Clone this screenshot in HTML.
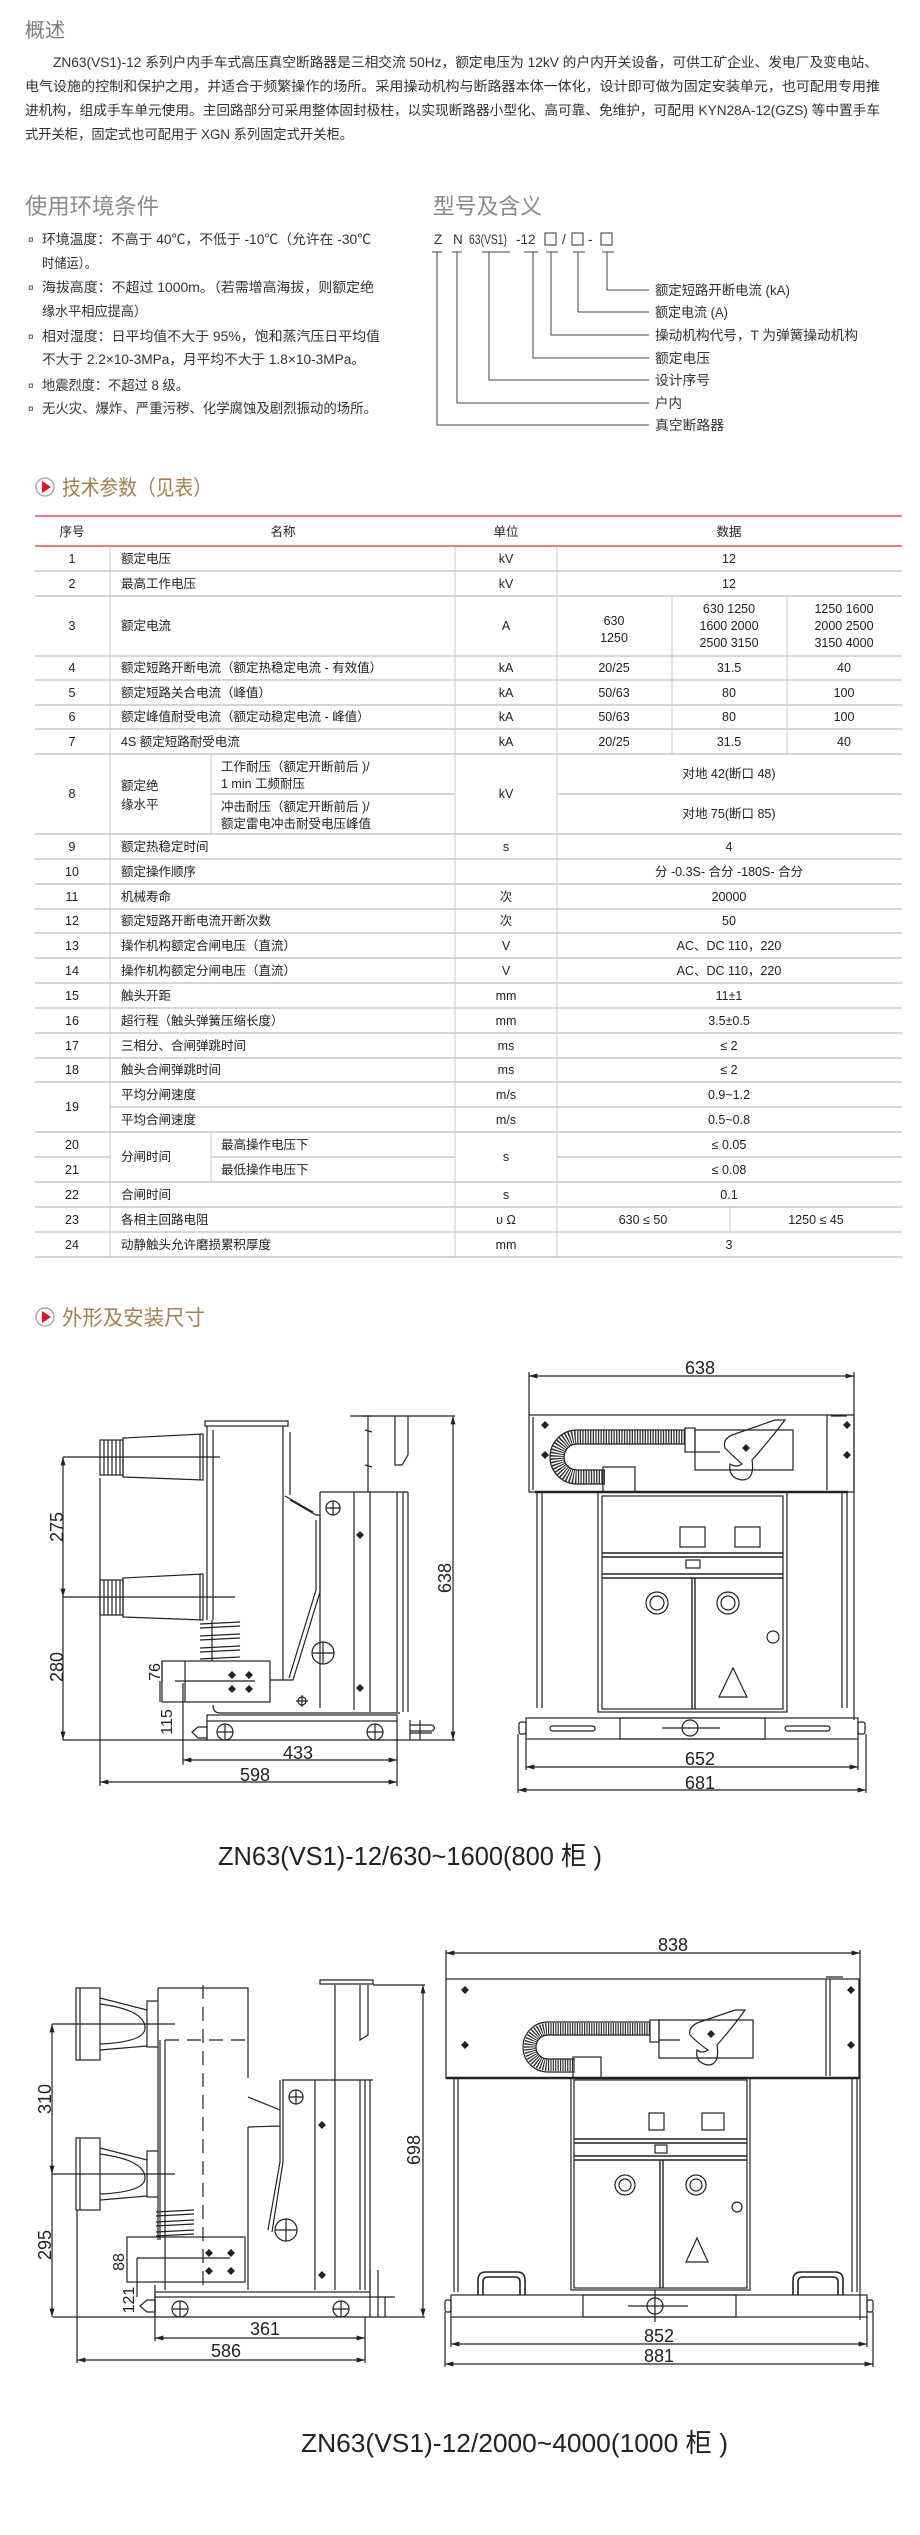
<!DOCTYPE html>
<html><head><meta charset="utf-8">
<style>
html,body{margin:0;padding:0;background:#fff;}
body{width:920px;height:2535px;position:relative;overflow:hidden;}
svg{position:absolute;left:0;top:0;}
text{font-family:"Liberation Sans","Noto Sans CJK SC",sans-serif;}
</style></head><body>
<svg width="920" height="2535" viewBox="0 0 920 2535" xmlns="http://www.w3.org/2000/svg">
<defs>
<marker id="ar" viewBox="0 0 10 10" refX="10" refY="5" markerWidth="7" markerHeight="7" orient="auto-start-reverse"><path d="M0,2 L10,5 L0,8 z" fill="#222"/></marker>
</defs>

<!-- ===== 概述 ===== -->
<text x="25" y="37" font-size="20" fill="#7a7a7a">概述</text>
<g font-size="13.5" fill="#333">
<text x="53" y="67" textLength="825" lengthAdjust="spacingAndGlyphs">ZN63(VS1)-12 系列户内手车式高压真空断路器是三相交流 50Hz，额定电压为 12kV 的户内开关设备，可供工矿企业、发电厂及变电站、</text>
<text x="25" y="91" textLength="855" lengthAdjust="spacingAndGlyphs">电气设施的控制和保护之用，并适合于频繁操作的场所。采用操动机构与断路器本体一体化，设计即可做为固定安装单元，也可配用专用推</text>
<text x="25" y="115" textLength="855" lengthAdjust="spacingAndGlyphs">进机构，组成手车单元使用。主回路部分可采用整体固封极柱，以实现断路器小型化、高可靠、免维护，可配用 KYN28A-12(GZS) 等中置手车</text>
<text x="25" y="139" textLength="328" lengthAdjust="spacingAndGlyphs">式开关柜，固定式也可配用于 XGN 系列固定式开关柜。</text>
</g>

<!-- ===== 使用环境条件 ===== -->
<text x="25" y="214" font-size="22" fill="#8a8a8a" textLength="134" lengthAdjust="spacingAndGlyphs">使用环境条件</text>
<g font-size="13.5" fill="#333">
<text x="28" y="243" font-size="10">¤</text>
<text x="42" y="244" textLength="329" lengthAdjust="spacingAndGlyphs">环境温度：不高于 40℃，不低于 -10℃（允许在 -30℃</text>
<text x="42" y="268" textLength="55" lengthAdjust="spacingAndGlyphs">时储运）。</text>
<text x="28" y="291" font-size="10">¤</text>
<text x="42" y="292" textLength="332" lengthAdjust="spacingAndGlyphs">海拔高度：不超过 1000m。（若需增高海拔，则额定绝</text>
<text x="42" y="316" textLength="105" lengthAdjust="spacingAndGlyphs">缘水平相应提高）</text>
<text x="28" y="340" font-size="10">¤</text>
<text x="42" y="341" textLength="338" lengthAdjust="spacingAndGlyphs">相对湿度：日平均值不大于 95%，饱和蒸汽压日平均值</text>
<text x="42" y="364" textLength="323" lengthAdjust="spacingAndGlyphs">不大于 2.2×10-3MPa，月平均不大于 1.8×10-3MPa。</text>
<text x="28" y="389" font-size="10">¤</text>
<text x="42" y="390" textLength="147" lengthAdjust="spacingAndGlyphs">地震烈度：不超过 8 级。</text>
<text x="28" y="412" font-size="10">¤</text>
<text x="42" y="413" textLength="335" lengthAdjust="spacingAndGlyphs">无火灾、爆炸、严重污秽、化学腐蚀及剧烈振动的场所。</text>
</g>

<!-- ===== 型号及含义 ===== -->
<text x="433" y="214" font-size="22" fill="#8a8a8a" textLength="109" lengthAdjust="spacingAndGlyphs">型号及含义</text>
<g font-size="13.5" fill="#333">
<text x="434" y="244">Z</text>
<text x="453" y="244">N</text>
<text x="469" y="244" textLength="38" lengthAdjust="spacingAndGlyphs">63(VS1)</text>
<text x="516" y="244">-12</text>
<rect x="545" y="233" width="11" height="12" fill="none" stroke="#333"/>
<text x="562" y="244">/</text>
<rect x="572" y="233" width="11" height="12" fill="none" stroke="#333"/>
<text x="588" y="244">-</text>
<rect x="601" y="233" width="11" height="12" fill="none" stroke="#333"/>
</g>
<g stroke="#444" stroke-width="1" fill="none">
<path d="M432,252h10 M452,252h10 M482,252h28 M524,252h14 M546,252h12 M573,252h12 M602,252h12"/>
<path d="M607,252V290H649 M578,252V312H649 M551,252V335H649 M533,252V358H649 M489,252V380H649 M457,252V403H649 M437,252V425H649"/>
</g>
<g font-size="13.5" fill="#333">
<text x="655" y="295" textLength="135" lengthAdjust="spacingAndGlyphs">额定短路开断电流 (kA)</text>
<text x="655" y="317" textLength="73" lengthAdjust="spacingAndGlyphs">额定电流 (A)</text>
<text x="655" y="340" textLength="203" lengthAdjust="spacingAndGlyphs">操动机构代号，T 为弹簧操动机构</text>
<text x="655" y="363" textLength="55" lengthAdjust="spacingAndGlyphs">额定电压</text>
<text x="655" y="385" textLength="55" lengthAdjust="spacingAndGlyphs">设计序号</text>
<text x="655" y="408" textLength="27" lengthAdjust="spacingAndGlyphs">户内</text>
<text x="655" y="430" textLength="69" lengthAdjust="spacingAndGlyphs">真空断路器</text>
</g>

<!-- ===== 技术参数 ===== -->
<circle cx="45" cy="487" r="9" fill="#fff" stroke="#aaa" stroke-width="1.5"/>
<path d="M42,481 L51,487 L42,493z" fill="#e0141e"/>
<text x="62" y="495" font-size="21" fill="#a3804f" textLength="150" lengthAdjust="spacingAndGlyphs">技术参数（见表）</text>

<g stroke="#c8c8c8" stroke-width="1.5">
<path d="M35,571H902 M35,596H902 M35,656H902 M35,680H902 M35,705H902 M35,729H902 M35,754H902 M211,794H455 M557,794H902 M35,834H902 M35,859H902 M35,884H902 M35,909H902 M35,933H902 M35,958H902 M35,983H902 M35,1008H902 M35,1033H902 M35,1058H902 M35,1082H902 M110,1107H902 M35,1132H902 M35,1157H110 M211,1157H455 M557,1157H902 M35,1182H902 M35,1207H902 M35,1232H902 M35,1257H902"/>
</g>
<g stroke="#c8c8c8" stroke-width="1">
<path d="M110,546V1257 M455,546V1257 M557,546V1257 M672,596V754 M787,596V754 M211,754V834 M211,1132V1182 M730,1207V1232"/>
</g>
<g stroke="#ec7b86" stroke-width="2"><path d="M35,516H902 M35,546H902"/></g>

<g font-size="12.5" fill="#222" text-anchor="middle">
<text x="72" y="536">序号</text><text x="283" y="536">名称</text><text x="506" y="536">单位</text><text x="729" y="536">数据</text>
<text x="72" y="563">1</text><text x="72" y="588">2</text><text x="72" y="630">3</text><text x="72" y="672">4</text>
<text x="72" y="697">5</text><text x="72" y="721">6</text><text x="72" y="746">7</text><text x="72" y="798">8</text>
<text x="72" y="851">9</text><text x="72" y="876">10</text><text x="72" y="901">11</text><text x="72" y="925">12</text>
<text x="72" y="950">13</text><text x="72" y="975">14</text><text x="72" y="1000">15</text><text x="72" y="1025">16</text>
<text x="72" y="1050">17</text><text x="72" y="1074">18</text><text x="72" y="1111">19</text><text x="72" y="1149">20</text>
<text x="72" y="1174">21</text><text x="72" y="1199">22</text><text x="72" y="1224">23</text><text x="72" y="1249">24</text>
<text x="506" y="563">kV</text><text x="506" y="588">kV</text><text x="506" y="630">A</text><text x="506" y="672">kA</text>
<text x="506" y="697">kA</text><text x="506" y="721">kA</text><text x="506" y="746">kA</text><text x="506" y="798">kV</text>
<text x="506" y="851">s</text><text x="506" y="901">次</text><text x="506" y="925">次</text>
<text x="506" y="950">V</text><text x="506" y="975">V</text><text x="506" y="1000">mm</text><text x="506" y="1025">mm</text>
<text x="506" y="1050">ms</text><text x="506" y="1074">ms</text><text x="506" y="1099">m/s</text><text x="506" y="1124">m/s</text>
<text x="506" y="1161">s</text><text x="506" y="1199">s</text><text x="506" y="1224">υ Ω</text><text x="506" y="1249">mm</text>
<text x="729" y="563">12</text><text x="729" y="588">12</text>
<text x="614" y="625">630</text><text x="614" y="642">1250</text>
<text x="729" y="613">630  1250</text><text x="729" y="630">1600  2000</text><text x="729" y="647">2500  3150</text>
<text x="844" y="613">1250  1600</text><text x="844" y="630">2000  2500</text><text x="844" y="647">3150  4000</text>
<text x="614" y="672">20/25</text><text x="729" y="672">31.5</text><text x="844" y="672">40</text>
<text x="614" y="697">50/63</text><text x="729" y="697">80</text><text x="844" y="697">100</text>
<text x="614" y="721">50/63</text><text x="729" y="721">80</text><text x="844" y="721">100</text>
<text x="614" y="746">20/25</text><text x="729" y="746">31.5</text><text x="844" y="746">40</text>
<text x="729" y="778">对地  42(断口 48)</text>
<text x="729" y="818">对地  75(断口 85)</text>
<text x="729" y="851">4</text>
<text x="729" y="876">分 -0.3S- 合分 -180S- 合分</text>
<text x="729" y="901">20000</text><text x="729" y="925">50</text>
<text x="729" y="950">AC、DC 110，220</text><text x="729" y="975">AC、DC 110，220</text>
<text x="729" y="1000">11±1</text><text x="729" y="1025">3.5±0.5</text>
<text x="729" y="1050">≤ 2</text><text x="729" y="1074">≤ 2</text>
<text x="729" y="1099">0.9~1.2</text><text x="729" y="1124">0.5~0.8</text>
<text x="729" y="1149">≤ 0.05</text><text x="729" y="1174">≤ 0.08</text>
<text x="729" y="1199">0.1</text>
<text x="643" y="1224">630 ≤ 50</text><text x="816" y="1224">1250 ≤ 45</text>
<text x="729" y="1249">3</text>
</g>
<g font-size="12.5" fill="#222">
<text x="121" y="563">额定电压</text>
<text x="121" y="588">最高工作电压</text>
<text x="121" y="630">额定电流</text>
<text x="121" y="672">额定短路开断电流（额定热稳定电流 - 有效值）</text>
<text x="121" y="697">额定短路关合电流（峰值）</text>
<text x="121" y="721">额定峰值耐受电流（额定动稳定电流 - 峰值）</text>
<text x="121" y="746">4S 额定短路耐受电流</text>
<text x="121" y="790">额定绝</text><text x="121" y="809">缘水平</text>
<text x="221" y="771">工作耐压（额定开断前后 )/</text><text x="221" y="788">1 min 工频耐压</text>
<text x="221" y="811">冲击耐压（额定开断前后 )/</text><text x="221" y="828">额定雷电冲击耐受电压峰值</text>
<text x="121" y="851">额定热稳定时间</text>
<text x="121" y="876">额定操作顺序</text>
<text x="121" y="901">机械寿命</text>
<text x="121" y="925">额定短路开断电流开断次数</text>
<text x="121" y="950">操作机构额定合闸电压（直流）</text>
<text x="121" y="975">操作机构额定分闸电压（直流）</text>
<text x="121" y="1000">触头开距</text>
<text x="121" y="1025">超行程（触头弹簧压缩长度）</text>
<text x="121" y="1050">三相分、合闸弹跳时间</text>
<text x="121" y="1074">触头合闸弹跳时间</text>
<text x="121" y="1099">平均分闸速度</text>
<text x="121" y="1124">平均合闸速度</text>
<text x="121" y="1161">分闸时间</text>
<text x="221" y="1149">最高操作电压下</text>
<text x="221" y="1174">最低操作电压下</text>
<text x="121" y="1199">合闸时间</text>
<text x="121" y="1224">各相主回路电阻</text>
<text x="121" y="1249">动静触头允许磨损累积厚度</text>
</g>

<!-- ===== 外形及安装尺寸 ===== -->
<circle cx="45" cy="1317" r="9" fill="#fff" stroke="#aaa" stroke-width="1.5"/>
<path d="M42,1311 L51,1317 L42,1323z" fill="#e0141e"/>
<text x="62" y="1325" font-size="21" fill="#a3804f" textLength="143" lengthAdjust="spacingAndGlyphs">外形及安装尺寸</text>

<!-- Drawing 1 side -->
<g stroke="#222" stroke-width="1.2" fill="none">
<rect x="205" y="1421" width="83" height="5"/>
<path d="M207,1426V1620 M213,1430V1620 M283,1426V1680 M290,1432V1495"/>
<path d="M123,1438L203,1434V1480L123,1477z M200,1434V1480"/>
<rect x="100" y="1440" width="23" height="35"/>
<path d="M104,1440V1475 M108,1440V1475 M112,1440V1475 M116,1440V1475 M120,1440V1475"/>
<path d="M63,1457H220"/>
<path d="M123,1578L203,1574V1620L123,1617z M200,1574V1620"/>
<rect x="100" y="1580" width="23" height="35"/>
<path d="M104,1580V1615 M108,1580V1615 M112,1580V1615 M116,1580V1615 M120,1580V1615"/>
<path d="M63,1597H235"/>
<path d="M200,1624L240,1622 M200,1628L240,1626 M200,1636L240,1634 M200,1640L240,1638 M200,1648L240,1646 M200,1652L240,1650 M200,1659L240,1657 M212,1620V1661"/>
<rect x="162" y="1661" width="108" height="41"/>
<path d="M185,1661V1702 M175,1681H255"/>
<path d="M290,1500L316,1515H320V1592L293,1680H270 M285,1496L313,1512 M316,1520V1590L289,1678"/>
<path d="M320,1492H408 M320,1492V1708 M354,1492V1710 M370,1492V1712 M397,1492V1712 M403,1492V1712 M408,1492V1712"/>
<path d="M368,1416V1492 M350,1416H372 M395,1416V1465H402L408,1455V1416 M365,1430L372,1432 M365,1465L372,1467"/>
<path d="M213,1705Q213,1713 220,1713H400"/>
<circle cx="333" cy="1508" r="7"/><path d="M326,1508H340 M333,1501V1515"/>
<circle cx="323" cy="1653" r="11"/><path d="M312,1653H334 M323,1642V1664"/>
<circle cx="302" cy="1701" r="4"/><path d="M296,1701H308 M302,1695V1707"/>
<rect x="207" y="1715" width="190" height="6"/>
<path d="M207,1721V1740 M397,1721V1740"/>
<circle cx="225" cy="1732" r="8"/><path d="M217,1732H233 M225,1724V1740"/>
<circle cx="375" cy="1732" r="8"/><path d="M367,1732H383 M375,1724V1740"/>
<path d="M192,1732L198,1727H207V1738H198z M410,1720V1740 M410,1725H432Q437,1728 432,1731H410 M410,1733H432 M420,1720V1740"/>
<path d="M63,1740H455" />
<path d="M63,1457V1597" marker-start="url(#ar)" marker-end="url(#ar)"/>
<path d="M63,1597V1740" marker-end="url(#ar)"/>
<path d="M453,1416V1740" marker-start="url(#ar)" marker-end="url(#ar)"/>
<path d="M162,1661V1681 M160,1681V1702" />
<path d="M183,1683V1765 M100,1478V1786 M397,1740V1786 M362,1416H455"/>
<path d="M183,1760H397" marker-start="url(#ar)" marker-end="url(#ar)"/>
<path d="M100,1782H397" marker-start="url(#ar)" marker-end="url(#ar)"/>
</g>
<g fill="#222" font-size="18">
<path d="M228,1675l4,-4l4,4l-4,4z M253,1675l-4,-4 -4,4 4,4z M228,1689l4,-4l4,4l-4,4z M253,1689l-4,-4 -4,4 4,4z M356,1535l4,-4 4,4 -4,4z M356,1688l4,-4 4,4 -4,4z"/>
<text transform="translate(63,1527) rotate(-90)" text-anchor="middle">275</text>
<text transform="translate(63,1667) rotate(-90)" text-anchor="middle">280</text>
<text transform="translate(451,1578) rotate(-90)" text-anchor="middle">638</text>
<text transform="translate(160,1672) rotate(-90)" text-anchor="middle" font-size="16">76</text>
<text transform="translate(172,1722) rotate(-90)" text-anchor="middle" font-size="16">115</text>
<text x="298" y="1759" text-anchor="middle">433</text>
<text x="255" y="1781" text-anchor="middle">598</text>
</g>

<!-- Drawing 1 front -->
<g stroke="#222" stroke-width="1.2" fill="none">
<path d="M529,1376H854" marker-start="url(#ar)" marker-end="url(#ar)"/>
<path d="M529,1372V1415 M854,1372V1720"/>
<rect x="529" y="1415" width="325" height="77"/>
<path d="M533,1417V1490 M827,1415V1490 M831,1416H847"/>
<path d="M685,1437H577A20,20 0 0 0 577,1477H605" stroke-width="14" stroke-dasharray="1.3 1.3" stroke="#333"/>
<path d="M685,1430H577A27,27 0 0 0 577,1484H605 M685,1444H577A13,13 0 0 0 577,1470H605"/>
<rect x="603" y="1467" width="32" height="25"/>
<rect x="685" y="1428" width="10" height="24"/>
<path d="M695,1430H793V1470H695z M695,1452H720"/>
<path d="M725,1448Q722,1438 735,1434L775,1420L785,1420Q770,1440 752,1460Q755,1480 742,1480Q728,1478 730,1464Q736,1468 742,1464Q735,1458 725,1448z"/>
<path d="M535,1492H848" stroke-width="2.4"/>
<path d="M537,1492V1708 M542,1492V1708 M842,1492V1708 M847,1492V1708"/>
<rect x="598" y="1492" width="189" height="220"/>
<rect x="602" y="1496" width="181" height="213"/>
<path d="M602,1553H783 M602,1557H783 M602,1574H783 M602,1578H783 M692,1578V1709 M695,1578V1709" stroke-width="1.4"/>
<rect x="680" y="1527" width="25" height="20"/><rect x="735" y="1527" width="25" height="20"/>
<rect x="686" y="1560" width="14" height="8"/>
<circle cx="657" cy="1603" r="11"/><circle cx="657" cy="1603" r="7"/>
<circle cx="728" cy="1603" r="11"/><circle cx="728" cy="1603" r="7"/>
<circle cx="773" cy="1637" r="6"/>
<path d="M733,1668L747,1697H719z"/>
<rect x="526" y="1718" width="332" height="21"/>
<rect x="620" y="1718" width="145" height="21"/>
<rect x="519" y="1722" width="7" height="12" rx="2"/><rect x="858" y="1722" width="7" height="12" rx="2"/>
<rect x="550" y="1726" width="45" height="5" rx="2.5"/><rect x="785" y="1726" width="45" height="5" rx="2.5"/>
<circle cx="690" cy="1728" r="8"/><path d="M662,1728H720"/>
<path d="M526,1739V1770 M858,1739V1770 M518,1734V1793 M866,1734V1793"/>
<path d="M526,1767H858" marker-start="url(#ar)" marker-end="url(#ar)"/>
<path d="M518,1790H866" marker-start="url(#ar)" marker-end="url(#ar)"/>
</g>
<g fill="#222" font-size="18" text-anchor="middle">
<path d="M541,1425l4,-4 4,4 -4,4z M541,1455l4,-4 4,4 -4,4z M843,1425l4,-4 4,4 -4,4z M843,1455l4,-4 4,4 -4,4z M742,1448l4,-4 4,4 -4,4z"/>
<text x="700" y="1374">638</text>
<text x="700" y="1765">652</text>
<text x="700" y="1789">681</text>
</g>
<text x="218" y="1865" font-size="26" fill="#222" textLength="384" lengthAdjust="spacingAndGlyphs">ZN63(VS1)-12/630~1600(800 柜 )</text>

<!-- Drawing 2 side -->
<g stroke="#222" stroke-width="1.2" fill="none">
<rect x="76" y="1988" width="24" height="72"/><path d="M80,1988V2060"/>
<path d="M100,1998L147,2010 M100,2050L147,2046 M100,2004Q145,2010 145,2028Q145,2042 100,2044"/>
<rect x="147" y="2001" width="11" height="46"/>
<path d="M52,2024H175"/>
<rect x="76" y="2138" width="24" height="72"/><path d="M80,2138V2210"/>
<path d="M100,2148L147,2160 M100,2200L147,2196 M100,2154Q145,2160 145,2178Q145,2192 100,2194"/>
<rect x="147" y="2151" width="11" height="46"/>
<path d="M52,2174H175"/>
<path d="M158,1988H248V2078 M158,1988V2001 M158,2047V2151 M158,2197V2240 M165,2040V2290 M160,2040V2240"/>
<path d="M203,1985V2290 M165,2040H248" stroke-dasharray="14 8"/>
<path d="M248,2097L280,2110 M248,2127L280,2126 M248,2127V2290 M280,2080V2162L268,2230 M283,2080V2162L272,2232"/>
<path d="M282,2080H373 M315,2080V2290 M335,1985V2290 M360,2080V2290 M365,2080V2290 M370,2080V2290 M320,1980H373V1984H320z M360,1985V2040L368,2035V1985"/>
<circle cx="296" cy="2097" r="7"/><path d="M289,2097H303 M296,2090V2104"/>
<circle cx="286" cy="2230" r="11"/><path d="M275,2230H297 M286,2219V2241"/>
<path d="M156,2212L194,2210 M156,2216L194,2214 M156,2222L194,2220 M156,2226L194,2224 M156,2232L194,2230 M156,2236L194,2234"/>
<rect x="127" y="2237" width="118" height="45"/>
<path d="M137,2258H230 M137,2258V2297"/>
<rect x="155" y="2292" width="215" height="5"/>
<path d="M155,2297V2317 M370,2297V2317 M370,2270V2317 M378,2270V2317 M370,2297H395 M385,2297V2317"/>
<circle cx="180" cy="2309" r="8"/><path d="M172,2309H188 M180,2301V2317"/>
<circle cx="341" cy="2309" r="8"/><path d="M333,2309H349 M341,2301V2317"/>
<path d="M140,2306L147,2300H155V2312H147z"/>
<path d="M53,2317H425"/>
<path d="M52,2024V2174" marker-start="url(#ar)" marker-end="url(#ar)"/>
<path d="M52,2174V2317" marker-end="url(#ar)"/>
<path d="M423,1985V2317" marker-start="url(#ar)" marker-end="url(#ar)"/>
<path d="M373,1985H425"/>
<path d="M77,2210V2363 M155,2285V2341 M365,2317V2363"/>
<path d="M155,2338H365" marker-start="url(#ar)" marker-end="url(#ar)"/>
<path d="M77,2360H365" marker-start="url(#ar)" marker-end="url(#ar)"/>
</g>
<g fill="#222" font-size="18" text-anchor="middle">
<path d="M205,2253l4,-4 4,4 -4,4z M235,2253l-4,-4 -4,4 4,4z M205,2271l4,-4 4,4 -4,4z M235,2271l-4,-4 -4,4 4,4z M318,2125l4,-4 4,4 -4,4z M318,2275l4,-4 4,4 -4,4z"/>
<text transform="translate(51,2099) rotate(-90)">310</text>
<text transform="translate(51,2245) rotate(-90)">295</text>
<text transform="translate(420,2150) rotate(-90)">698</text>
<text transform="translate(124,2262) rotate(-90)" font-size="16">88</text>
<text transform="translate(134,2300) rotate(-90)" font-size="16">121</text>
<text x="265" y="2335">361</text>
<text x="226" y="2357">586</text>
</g>

<!-- Drawing 2 front -->
<g stroke="#222" stroke-width="1.2" fill="none">
<path d="M446,1953H860" marker-start="url(#ar)" marker-end="url(#ar)"/>
<path d="M446,1950V1980 M860,1950V2320"/>
<rect x="446" y="1979" width="413" height="99"/>
<path d="M826,1979V2076 M830,1979V2076 M826,1977H843"/>
<path d="M650,2029H548A18,18 0 0 0 548,2065H575" stroke-width="12" stroke-dasharray="1.2 1.2" stroke="#333"/>
<path d="M650,2022H548A25,25 0 0 0 548,2072H575 M650,2035H548A12,12 0 0 0 548,2059H575"/>
<rect x="573" y="2057" width="28" height="21"/>
<rect x="650" y="2020" width="9" height="22"/>
<path d="M659,2020H753V2058H659z M659,2040H680"/>
<path d="M690,2035Q688,2026 700,2022L735,2010L745,2010Q733,2027 717,2045Q720,2065 708,2065Q695,2063 697,2050Q702,2054 708,2050Q700,2045 690,2035z"/>
<path d="M446,2078H859" stroke-width="2.4"/>
<path d="M454,2078V2292 M458,2078V2292 M852,2078V2292 M857,2078V2292"/>
<rect x="571" y="2078" width="179" height="212"/>
<rect x="574" y="2080" width="173" height="208"/>
<path d="M574,2139H747 M574,2143H747 M574,2156H747 M574,2160H747 M660,2160V2288 M663,2160V2288" stroke-width="1.4"/>
<rect x="649" y="2113" width="15" height="17"/><rect x="702" y="2113" width="22" height="17"/>
<rect x="655" y="2145" width="12" height="8"/>
<circle cx="625" cy="2185" r="10"/><circle cx="625" cy="2185" r="6"/>
<circle cx="696" cy="2185" r="10"/><circle cx="696" cy="2185" r="6"/>
<circle cx="737" cy="2207" r="5"/>
<path d="M697,2238L708,2262H686z"/>
<path d="M478,2295V2280Q478,2272 486,2272H517Q525,2272 525,2280V2295 M483,2295V2282Q483,2277 488,2277H515Q520,2277 520,2282V2295" stroke-width="1.6"/>
<path d="M793,2295V2280Q793,2272 801,2272H835Q843,2272 843,2280V2295 M798,2295V2282Q798,2277 803,2277H833Q838,2277 838,2282V2295" stroke-width="1.6"/>
<rect x="451" y="2295" width="416" height="22"/>
<rect x="583" y="2295" width="153" height="22"/>
<rect x="445" y="2300" width="6" height="12" rx="2"/><rect x="867" y="2300" width="6" height="12" rx="2"/>
<circle cx="655" cy="2306" r="8"/><path d="M628,2306H688 M655,2290V2322"/>
<path d="M451,2317V2347 M867,2317V2347 M445,2312V2367 M873,2312V2367"/>
<path d="M451,2344H867" marker-start="url(#ar)" marker-end="url(#ar)"/>
<path d="M445,2364H873" marker-start="url(#ar)" marker-end="url(#ar)"/>
</g>
<g fill="#222" font-size="18" text-anchor="middle">
<path d="M461,1990l4,-4 4,4 -4,4z M461,2045l4,-4 4,4 -4,4z M847,1990l4,-4 4,4 -4,4z M847,2045l4,-4 4,4 -4,4z M707,2034l4,-4 4,4 -4,4z"/>
<text x="673" y="1951">838</text>
<text x="659" y="2342">852</text>
<text x="659" y="2362">881</text>
</g>
<text x="301" y="2452" font-size="26" fill="#222" textLength="427" lengthAdjust="spacingAndGlyphs">ZN63(VS1)-12/2000~4000(1000 柜 )</text>
</svg>
</body></html>
